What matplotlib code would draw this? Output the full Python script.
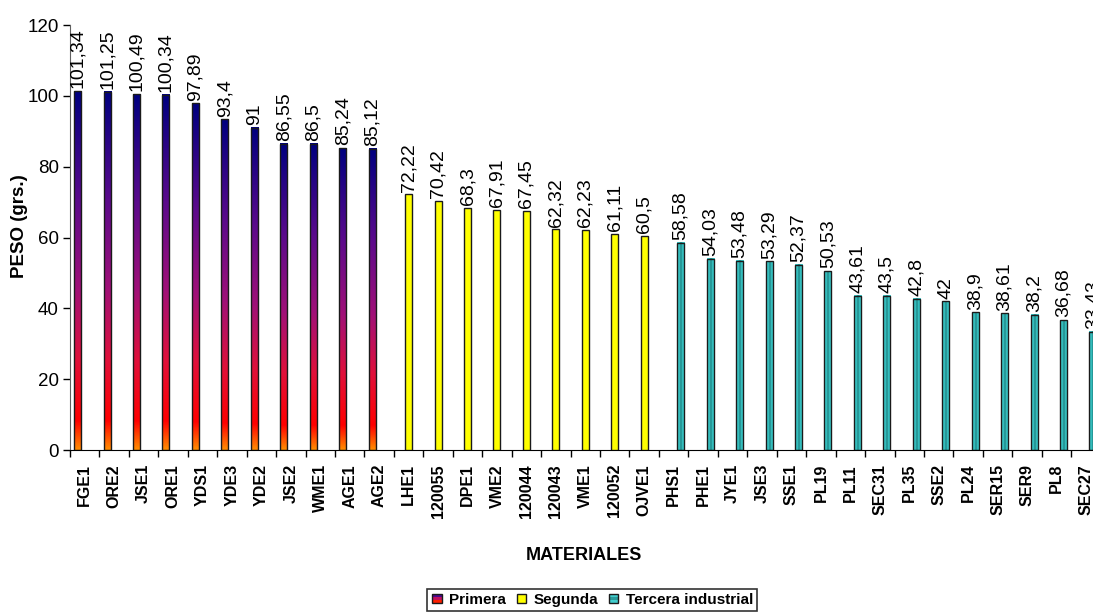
import numpy as np
import matplotlib
matplotlib.use('Agg')
import matplotlib.pyplot as plt
from matplotlib.colors import LinearSegmentedColormap
from matplotlib.patches import Rectangle
from matplotlib.legend_handler import HandlerBase

plt.rcParams['font.family'] = ['Liberation Sans', 'DejaVu Sans']

primera_labels = ['FGE1', 'ORE2', 'JSE1', 'ORE1', 'YDS1', 'YDE3', 'YDE2', 'JSE2', 'WME1', 'AGE1', 'AGE2']
primera_values = [101.34, 101.25, 100.49, 100.34, 97.89, 93.4, 91, 86.55, 86.5, 85.24, 85.12]

segunda_labels = ['LHE1', '120055', 'DPE1', 'VME2', '120044', '120043', 'VME1', '120052', 'OJVE1']
segunda_values = [72.22, 70.42, 68.3, 67.91, 67.45, 62.32, 62.23, 61.11, 60.5]

tercera_labels = ['PHS1', 'PHE1', 'JYE1', 'JSE3', 'SSE1', 'PL19', 'PL11', 'SEC31', 'PL35', 'SSE2',
                  'PL24', 'SER15', 'SER9', 'PL8', 'SEC27']
tercera_values = [58.58, 54.03, 53.48, 53.29, 52.37, 50.53, 43.61, 43.5, 42.8, 42, 38.9, 38.61, 38.2,
                  36.68, 33.43]

series_names = ['Primera', 'Segunda', 'Tercera industrial']

fire = LinearSegmentedColormap.from_list('fire', [
    (0.0, '#ff8c00'), (0.08, '#ff0000'), (0.25, '#e0103a'),
    (0.45, '#a01078'), (0.7, '#5a0a8c'), (1.0, '#000080')])
teal = LinearSegmentedColormap.from_list('teal', [
    (0.0, '#40d4d4'), (0.3, '#36c4c4'), (0.5, '#208282'), (0.7, '#36c4c4'), (1.0, '#40d4d4')])


def fmt(v):
    return ('%g' % v).replace('.', ',')


fig = plt.figure(figsize=(10.93, 6.14), dpi=100)
ax = fig.add_axes([0.064, 0.267, 0.943, 0.692])

all_labels = primera_labels + segunda_labels + tercera_labels
n = len(all_labels)
width = 0.24
groups = [(primera_labels, primera_values, -width),
          (segunda_labels, segunda_values, 0.0),
          (tercera_labels, tercera_values, width)]

start = 0
for g, (labels, values, offset) in enumerate(groups):
    xs = np.arange(start, start + len(labels)) + 0.5 + offset
    start += len(labels)
    face = '#ffff00' if g == 1 else 'none'
    bars = ax.bar(xs, values, width=width, color=face, edgecolor='#1a1a1a', linewidth=1.0, zorder=3)
    for bar, v in zip(bars, values):
        x0 = bar.get_x()
        if g == 0:
            grad = np.linspace(0, 1, 256).reshape(-1, 1)
            ax.imshow(grad, cmap=fire, origin='lower', aspect='auto',
                      extent=[x0, x0 + width, 0, v], clip_path=bar, zorder=2)
        elif g == 2:
            grad = np.linspace(0, 1, 64).reshape(1, -1)
            ax.imshow(grad, cmap=teal, origin='lower', aspect='auto',
                      extent=[x0, x0 + width, 0, v], clip_path=bar, zorder=2)
        ax.annotate(fmt(v), (x0 + width / 2, v), xytext=(0, 2), textcoords='offset points',
                    rotation=90, ha='center', va='bottom', fontsize=14, clip_on=False)

ax.set_xlim(0, n)
ax.set_ylim(0, 120)
ax.set_yticks(range(0, 121, 20))
ax.tick_params(axis='y', labelsize=13.5, length=5, direction='out', width=1, pad=3)

ax.set_xticks(np.arange(n) + 0.5)
ax.set_xticklabels(all_labels, rotation=90, fontweight='bold', fontsize=11.5)
ax.set_xticks(np.arange(n + 1), minor=True)
ax.tick_params(axis='x', which='major', length=0, pad=10)
ax.tick_params(axis='x', which='minor', length=5, width=1)

for side in ['top', 'right']:
    ax.spines[side].set_visible(False)
ax.spines['left'].set_color('#606060')
ax.spines['bottom'].set_color('black')

fig.text(0.018, 1 - 226 / 614, 'PESO (grs.)', rotation=90, ha='center', va='center',
         fontweight='bold', fontsize=13.5)
fig.text(0.534, 0.096, 'MATERIALES', ha='center', va='center', fontweight='bold', fontsize=13)


class HandlerGradientBox(HandlerBase):
    def __init__(self, colors):
        super().__init__()
        self.colors = colors

    def create_artists(self, legend, orig_handle, xdescent, ydescent, width, height, fontsize, trans):
        size = height * 0.9
        x = -xdescent + (width - size) / 2
        y = -ydescent + (height - size) / 2
        arts = []
        k = len(self.colors)
        for i, c in enumerate(self.colors):
            arts.append(Rectangle((x, y + size * (k - 1 - i) / k), size, size / k, facecolor=c,
                                  edgecolor='none', transform=trans))
        arts.append(Rectangle((x, y), size, size, facecolor='none', edgecolor='#1a1a1a',
                              linewidth=1, transform=trans))
        return arts


h1, h2, h3 = Rectangle((0, 0), 1, 1), Rectangle((0, 0), 1, 1), Rectangle((0, 0), 1, 1)
leg = fig.legend([h1, h2, h3], series_names, loc='center', bbox_to_anchor=(0.5416, 0.0228),
                 ncol=3, frameon=True, fancybox=False, edgecolor='black', handlelength=0.8,
                 handletextpad=0.4, columnspacing=0.6, borderpad=0.25,
                 prop={'weight': 'bold', 'size': 11},
                 handler_map={h1: HandlerGradientBox(['#4a0a90', '#c01060', '#ff2000']),
                              h2: HandlerGradientBox(['#ffff00']),
                              h3: HandlerGradientBox(['#40cccc', '#2a9a9a', '#40cccc'])})
leg.get_frame().set_linewidth(1.2)

fig.savefig('out.png', dpi=100)
